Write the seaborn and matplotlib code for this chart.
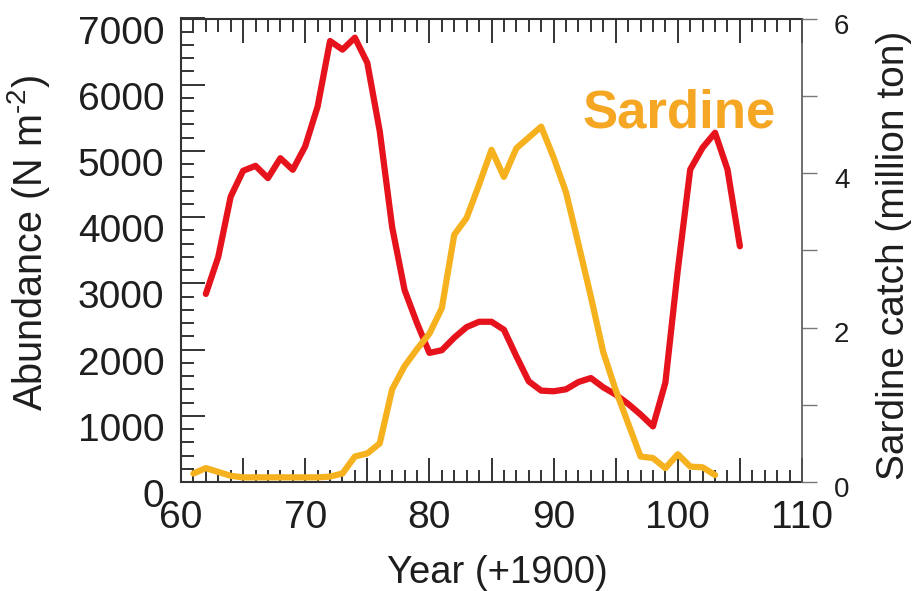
import matplotlib
matplotlib.use("Agg")
import matplotlib.pyplot as plt
import seaborn as sns
import pandas as pd
from matplotlib.ticker import FixedLocator, MultipleLocator
from matplotlib.transforms import ScaledTranslation

# Annual abundance (N m-2), years counted from 1900
abund_years = list(range(62, 106))
abundance = [2840, 3400, 4310, 4700, 4775, 4590, 4890, 4715, 5070, 5670,
             6660, 6530, 6710, 6330, 5300, 3850, 2900, 2400, 1950, 1990,
             2180, 2340, 2420, 2420, 2300, 1900, 1520, 1380, 1370, 1400,
             1510, 1570, 1430, 1320, 1180, 1020, 840, 1500, 3200, 4720,
             5050, 5275, 4720, 3560]

# Sardine catch (million ton)
sardine_years = list(range(61, 104))
sardine_catch = [0.11, 0.18, 0.13, 0.08, 0.06, 0.06, 0.06, 0.06, 0.06, 0.06,
                 0.06, 0.07, 0.11, 0.33, 0.37, 0.50, 1.20, 1.50, 1.72, 1.92,
                 2.25, 3.20, 3.42, 3.85, 4.30, 3.95, 4.32, 4.46, 4.60, 4.20,
                 3.75, 3.08, 2.40, 1.68, 1.19, 0.76, 0.33, 0.31, 0.18, 0.36,
                 0.20, 0.19, 0.09]

x_ticks = list(range(60, 111, 5))
x_tick_labels = ["60", "", "70", "", "80", "", "90", "", "100", "", "110"]
left_ticks = list(range(0, 7001, 1000))
left_tick_labels = [str(v) for v in left_ticks]
right_ticks = [0, 1, 2, 3, 4, 5, 6]
right_tick_labels = ["0", "", "2", "", "4", "", "6"]

RED = "#E6121C"
ORANGE = "#F6B11E"
LABEL_ORANGE = "#F5A623"
INK = "#1E1E1E"
SPINE = "#333333"

sns.set_style("ticks")
plt.rcParams["font.family"] = ["Liberation Sans", "DejaVu Sans"]
plt.rcParams["mathtext.fontset"] = "custom"
plt.rcParams["mathtext.rm"] = "Liberation Sans"

abund_df = pd.DataFrame({"year": abund_years, "abundance": abundance})
sardine_df = pd.DataFrame({"year": sardine_years, "catch": sardine_catch})

fig = plt.figure(figsize=(9.16, 5.91), dpi=100)
ax = fig.add_axes([181 / 916, 109 / 591, 621 / 916, 463.5 / 591])

sns.lineplot(data=abund_df, x="year", y="abundance", ax=ax, color=RED,
             linewidth=4.5, legend=False,
             solid_joinstyle="round", solid_capstyle="round")

ax.set_xlim(60, 110)
ax.set_ylim(0, 7000)
ax.xaxis.set_major_locator(FixedLocator(x_ticks))
ax.set_xticklabels(x_tick_labels)
ax.xaxis.set_minor_locator(MultipleLocator(1))
ax.yaxis.set_major_locator(FixedLocator(left_ticks))
ax.set_yticklabels(left_tick_labels)
ax.yaxis.set_minor_locator(MultipleLocator(200))

ax.tick_params(axis="x", which="both", direction="in", top=True, bottom=True,
               color=SPINE, width=1.4, labelcolor=INK)
ax.tick_params(axis="x", which="major", length=17.5, labelsize=28, pad=13)
ax.tick_params(axis="x", which="minor", length=9)
ax.tick_params(axis="y", which="both", direction="in", left=True, right=False,
               color=SPINE, width=1.4, labelcolor=INK)
ax.tick_params(axis="y", which="major", length=17.5, labelsize=28, pad=12)
ax.tick_params(axis="y", which="minor", length=9)

for side in ["left", "top", "bottom"]:
    ax.spines[side].set_color(SPINE)
    ax.spines[side].set_linewidth(1.5)
ax.spines["right"].set_visible(False)

ax.set_xlabel("Year (+1900)", fontsize=27.5, color=INK)
ax.xaxis.set_label_coords(0.509, -0.158)
ax.set_ylabel("Abundance (N m$^{\\mathregular{\u20102}}$)", fontsize=28.5,
              color=INK, va="center")
ax.yaxis.set_label_coords(-0.245, 0.516)

ax2 = ax.twinx()
sns.lineplot(data=sardine_df, x="year", y="catch", ax=ax2, color=ORANGE,
             linewidth=4.5, legend=False,
             solid_joinstyle="round", solid_capstyle="round")
ax2.set_xlim(60, 110)
ax2.set_ylim(0, 6)
ax2.yaxis.set_major_locator(FixedLocator(right_ticks))
ax2.set_yticklabels(right_tick_labels)
ax2.tick_params(axis="y", direction="out", length=11, width=1.0,
                color="#777777", labelsize=20, pad=12, labelcolor=INK)
for side in ["left", "top", "bottom"]:
    ax2.spines[side].set_visible(False)
ax2.spines["right"].set_color("#555555")
ax2.spines["right"].set_linewidth(1.2)
ax2.set_ylabel("Sardine catch (million ton)", fontsize=28, color=INK,
               va="center", rotation=90)
ax2.yaxis.set_label_coords(1.148, 0.49)
ax2.set_xlabel("")

ax2.text(100.1, 5360, "Sardine", transform=ax.transData, fontsize=38,
         fontweight="bold", color=LABEL_ORANGE, ha="center", va="baseline")

# left tick labels sit a little below their ticks
shift_down = ScaledTranslation(0, -0.11, fig.dpi_scale_trans)
for lab in ax.get_yticklabels():
    lab.set_transform(lab.get_transform() + shift_down)
shift_right = ScaledTranslation(0, -0.05, fig.dpi_scale_trans)
for lab in ax2.get_yticklabels():
    lab.set_transform(lab.get_transform() + shift_right)

fig.savefig("out.png", dpi=100)
